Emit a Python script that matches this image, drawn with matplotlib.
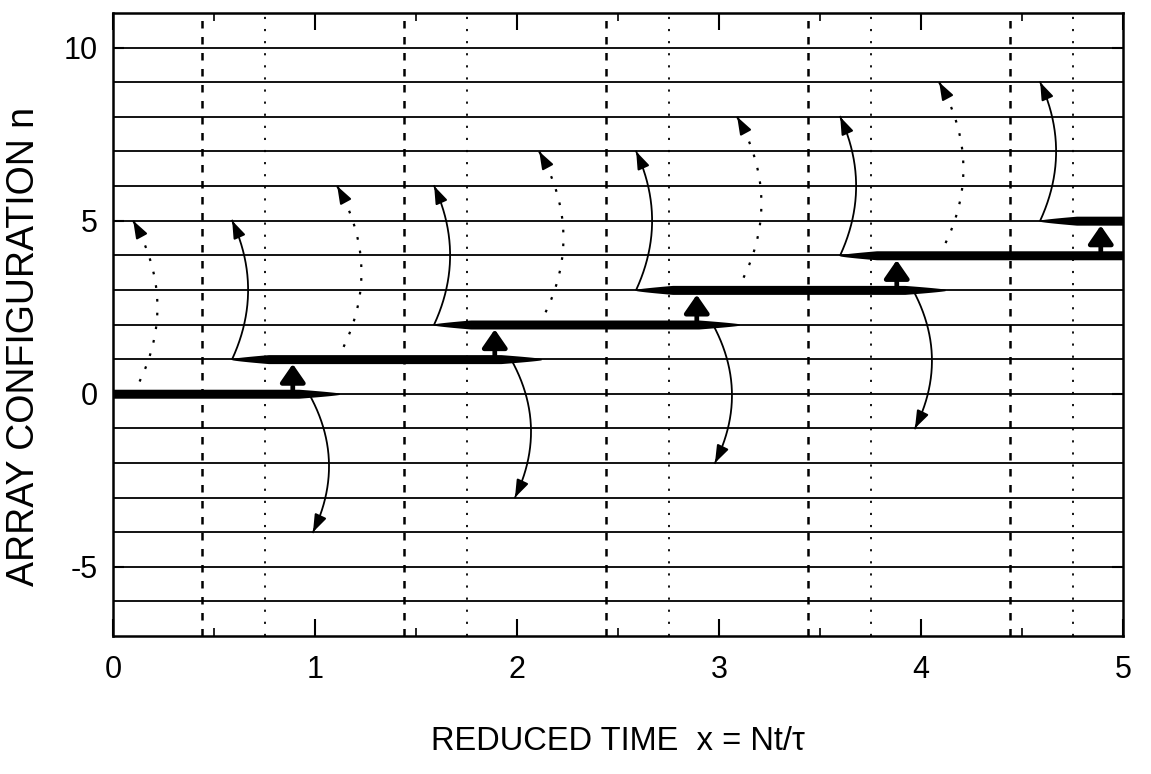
import numpy as np
import matplotlib
matplotlib.use('Agg')
import matplotlib.pyplot as plt

plt.rcParams['font.family'] = ['Liberation Sans', 'DejaVu Sans']
plt.rcParams['axes.unicode_minus'] = False

# ---------------- data ----------------
x_ticks = [0, 1, 2, 3, 4, 5]
x_minor = [0.5, 1.5, 2.5, 3.5, 4.5]
y_ticks = [-5, 0, 5, 10]
y_ticklabels = ['-5', '0', '5', '10']
grid_levels = list(range(-6, 11))
dashed_x = [0.44, 1.44, 2.44, 3.44, 4.44]
dotted_x = [0.75, 1.75, 2.75, 3.75, 4.75]

step_levels = [0, 1, 2, 3, 4, 5]
step_start = [0.0, 0.59, 1.59, 2.59, 3.60, 4.59]
step_end = [1.12, 2.12, 3.10, 4.12, 5.0, 5.0]

jump_x = [0.89, 1.89, 2.89, 3.88, 4.89]
jump_from = [0, 1, 2, 3, 4]

up_solid_x = [0.59, 1.59, 2.59, 3.60, 4.59]
up_solid_from = [1, 2, 3, 4, 5]
up_solid_to = [5, 6, 7, 8, 9]

up_dotted_x = [0.10, 1.11, 2.11, 3.09, 4.09]
up_dotted_from = [0, 1, 2, 3, 4]
up_dotted_to = [5, 6, 7, 8, 9]

down_x0 = [0.97, 1.97, 2.97, 3.96]
down_x1 = [0.99, 1.99, 2.98, 3.97]
down_from = [0, 1, 2, 3]
down_to = [-4, -3, -2, -1]

# ---------------- figure ----------------
fig = plt.figure(figsize=(11.51, 7.74), dpi=100)
ax = fig.add_axes([113 / 1151, 1 - 636 / 774, 1010 / 1151, 623 / 774])
ax.set_xlim(0, 5)
ax.set_ylim(-7, 11)

for lev in grid_levels:
    ax.axhline(lev, color='k', lw=1.3, zorder=1)
for xv in dashed_x:
    ax.axvline(xv, color='k', lw=1.8, ls=(0, (3.0, 3.4)), zorder=1)
for xv in dotted_x:
    ax.axvline(xv, color='k', lw=1.3, ls=(0, (1.2, 5.5)), zorder=1)

# thick tapered steps
for lev, s, e in zip(step_levels, step_start, step_end):
    xs = np.linspace(s, e, 400)
    rin = np.clip((xs - s) / 0.18, 0, 1) if s > 0 else np.ones_like(xs)
    rout = np.clip((e - xs) / 0.2, 0, 1) if e < 5 else np.ones_like(xs)
    h = 0.11 * np.minimum(rin, rout) ** 0.8 + 0.02
    ax.fill_between(xs, lev - h, lev + h, color='k', lw=0, zorder=3)

# bold jump arrows
for xj, k in zip(jump_x, jump_from):
    ax.annotate('', xy=(xj, k + 0.86), xytext=(xj, k + 0.08),
                arrowprops=dict(arrowstyle='-|>,head_length=0.55,head_width=0.38',
                                lw=3.4, color='k', shrinkA=0, shrinkB=0,
                                mutation_scale=20), zorder=4)


def curved(x0, y0, x1, y1, rad, ls, lw):
    T = ax.transData
    p0 = np.array(T.transform((x0, y0)))
    p2 = np.array(T.transform((x1, y1)))
    mid = (p0 + p2) / 2
    d = p2 - p0
    c = mid + rad * np.array([d[1], -d[0]])
    t = np.linspace(0, 1, 300)[:, None]
    pts = (1 - t) ** 2 * p0 + 2 * (1 - t) * t * c + t ** 2 * p2
    dat = T.inverted().transform(pts)
    ax.plot(dat[:, 0], dat[:, 1], color='k', lw=lw, ls=ls, zorder=2)
    ax.annotate('', xy=dat[-1], xytext=dat[-10],
                arrowprops=dict(arrowstyle='-|>,head_length=0.7,head_width=0.25',
                                lw=1.4, color='k', shrinkA=0, shrinkB=0,
                                mutation_scale=15), zorder=2)


for xv, a, b in zip(up_solid_x, up_solid_from, up_solid_to):
    curved(xv, a, xv, b, 0.23, '-', 1.3)
for xv, a, b in zip(up_dotted_x, up_dotted_from, up_dotted_to):
    curved(xv, a, xv, b, 0.28, (0, (1.2, 5.0)), 1.6)
for xa, xb, a, b in zip(down_x0, down_x1, down_from, down_to):
    curved(xa, a, xb, b, -0.26, '-', 1.3)

# axes styling
ax.set_xticks(x_ticks)
ax.set_xticks(x_minor, minor=True)
ax.set_yticks(y_ticks)
ax.set_yticklabels(y_ticklabels)
ax.tick_params(which='major', direction='in', length=12, width=1.5,
               top=True, right=True, labelsize=22)
ax.tick_params(which='minor', direction='in', length=6, width=1.2,
               top=True, right=True)
ax.tick_params(axis='x', which='major', pad=14)
ax.tick_params(axis='y', which='major', pad=11, length=8)
for sp in ax.spines.values():
    sp.set_linewidth(1.8)

ax.set_xlabel('REDUCED TIME  x = Nt/\u03c4', fontsize=23.5)
ax.xaxis.set_label_coords(0.5, -0.169)
ax.xaxis.label.set_va('center')
ax.set_ylabel('ARRAY CONFIGURATION n', fontsize=27)
ax.yaxis.set_label_coords(-0.088, 0.464)
ax.yaxis.label.set_va('center')

fig.savefig('out.png', dpi=100)
